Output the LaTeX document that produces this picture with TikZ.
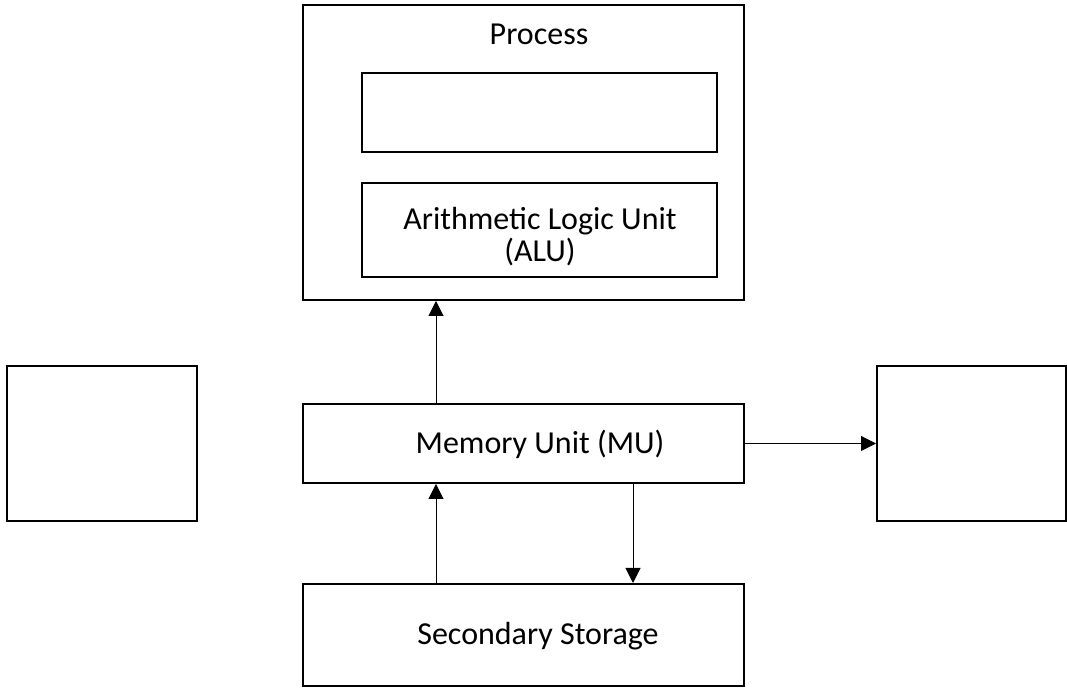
\documentclass[tikz,border=0pt]{standalone}
\usepackage{fontspec}
\setmainfont{Carlito}
\usetikzlibrary{arrows.meta}
\begin{document}
\begin{tikzpicture}[x=0.5pt,y=-0.5pt,
  box/.style={draw=black,line width=1pt,inner sep=0pt},
  lbl/.style={inner sep=0pt,anchor=base,font=\fontsize{16}{18}\selectfont},
  arr/.style={line width=0.5pt,-{Triangle[length=7.5pt,width=7.5pt]}}]
\useasboundingbox (0,0) rectangle (1067,688);
\node[box,minimum width=220.5pt,minimum height=147.5pt] (proc) at (523.5,152.5) {};
\node[lbl] (ptext) at (539,45) {Process};
\node[box,minimum width=177.5pt,minimum height=39.5pt] (inner) at (539.5,112.5) {};
\node[box,minimum width=177.5pt,minimum height=47pt] (alu) at (539.5,230) {};
\node[lbl] (alu1) at (540,230) {Arithmetic Logic Unit};
\node[lbl] (alu2) at (540,262) {(ALU)};
\node[box,minimum width=95pt,minimum height=77.5pt] (left) at (102,443.5) {};
\node[box,minimum width=220.5pt,minimum height=39.5pt] (mu) at (523.5,443.5) {};
\node[lbl] (mutext) at (540,454) {Memory Unit (MU)};
\node[box,minimum width=94.5pt,minimum height=77.5pt] (right) at (971.5,443.5) {};
\node[box,minimum width=220.5pt,minimum height=51pt] (sec) at (523.5,635) {};
\node[lbl] (sectext) at (538,645) {Secondary Storage};
\coordinate (x1) at (436,0);
\coordinate (x2) at (633,0);
\draw[arr] (mu.north -| x1) -- (proc.south -| x1);
\draw[arr] (sec.north -| x1) -- (mu.south -| x1);
\draw[arr] (mu.south -| x2) -- (sec.north -| x2);
\draw[arr] (mu.east) -- (right.west);
\end{tikzpicture}
\end{document}
